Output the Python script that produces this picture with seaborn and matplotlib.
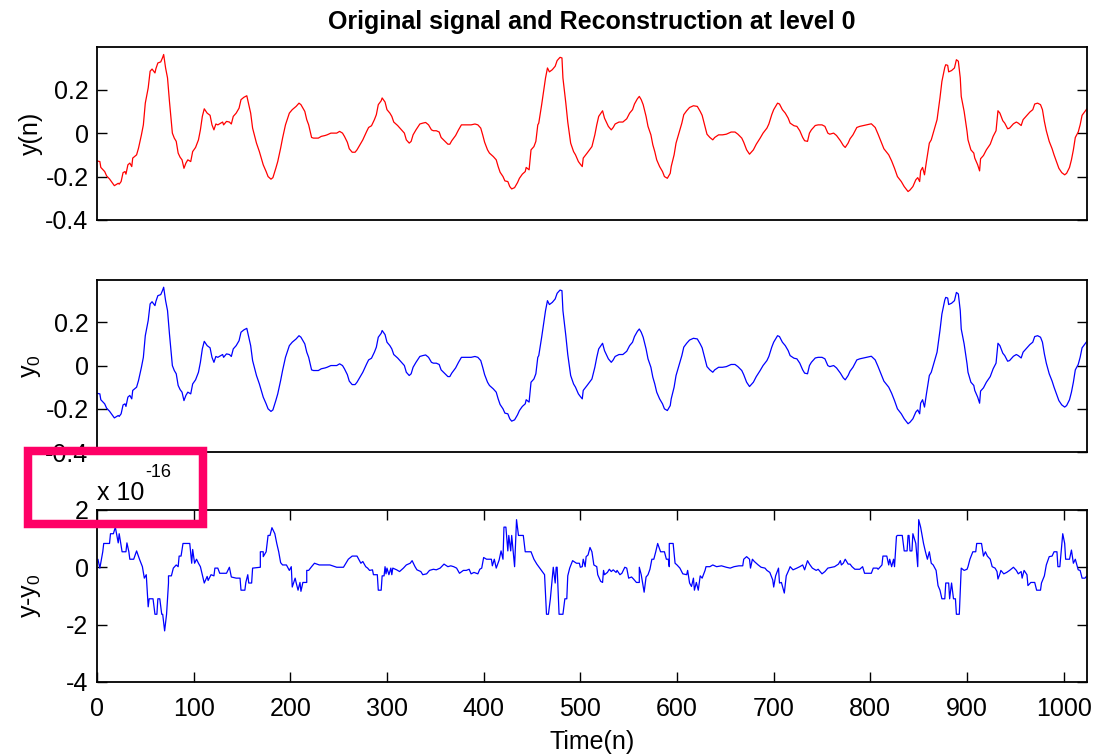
import numpy as np
import matplotlib.pyplot as plt
import matplotlib.patches as patches
from matplotlib.ticker import FuncFormatter
import seaborn as sb

# signal y(n) at its turning points (sample index, value)
n_sig = [0, 3, 4, 8, 10, 13, 18, 22, 23, 25, 27, 29, 30, 32, 34, 36, 37, 41, 43, 46,
         48, 50, 53, 55, 57, 60, 61, 63, 66, 68, 69, 71, 73, 75, 78, 80, 82, 84, 86, 88,
         90, 92, 94, 97, 99, 102, 105, 107, 109, 111, 114, 117, 119, 121, 123, 125, 128, 130, 131, 134,
         137, 139, 141, 144, 147, 149, 152, 155, 157, 159, 161, 165, 168, 170, 172, 175, 177, 180, 182, 185,
         187, 190, 192, 195, 199, 202, 206, 209, 211, 215, 217, 219, 222, 224, 229, 232, 236, 238, 242, 248,
         251, 254, 256, 259, 261, 264, 267, 269, 272, 275, 279, 281, 284, 287, 289, 291, 294, 295, 298, 300,
         303, 305, 307, 311, 315, 318, 320, 323, 325, 327, 330, 334, 337, 340, 343, 346, 348, 351, 354, 356,
         360, 363, 365, 367, 371, 374, 377, 380, 384, 387, 391, 394, 397, 399, 401, 404, 406, 410, 413, 415,
         417, 420, 422, 425, 427, 429, 432, 435, 437, 440, 443, 444, 447, 449, 452, 454, 456, 457, 460, 462,
         464, 466, 468, 471, 474, 476, 479, 481, 482, 485, 487, 490, 493, 495, 498, 500, 502, 503, 507, 512,
         515, 517, 519, 523, 525, 529, 532, 534, 536, 540, 544, 548, 551, 554, 556, 559, 561, 563, 565, 568,
         570, 573, 575, 577, 579, 582, 585, 587, 590, 593, 594, 597, 599, 602, 605, 607, 610, 613, 617, 621,
         624, 626, 629, 631, 634, 637, 639, 643, 647, 651, 656, 660, 663, 667, 669, 672, 675, 679, 682, 686,
         689, 693, 695, 698, 700, 704, 706, 709, 712, 715, 717, 721, 724, 727, 730, 732, 735, 737, 739, 743,
         746, 750, 753, 756, 758, 762, 765, 769, 772, 774, 777, 779, 782, 786, 789, 793, 796, 801, 805, 808,
         811, 814, 819, 822, 825, 828, 832, 835, 839, 841, 844, 847, 849, 851, 852, 854, 856, 858, 861, 863,
         866, 869, 872, 874, 877, 878, 880, 881, 884, 887, 889, 891, 893, 894, 897, 900, 901, 904, 907, 908,
         911, 913, 914, 917, 920, 924, 927, 930, 932, 934, 937, 939, 942, 944, 948, 951, 953, 956, 958, 962,
         965, 968, 970, 973, 976, 978, 980, 982, 985, 988, 990, 993, 995, 998, 1001, 1003, 1006, 1008, 1010, 1012,
         1015, 1017, 1019, 1022, 1024]
y_sig = [-0.128, -0.131, -0.158, -0.177, -0.197, -0.211, -0.242, -0.231, -0.235, -0.223, -0.182, -0.177, -0.189, -0.146, -0.138, -0.154, -0.115, -0.100, -0.069, -0.008,
         0.038, 0.138, 0.208, 0.285, 0.295, 0.277, 0.297, 0.323, 0.328, 0.349, 0.362, 0.300, 0.254, 0.146, 0.000, -0.023, -0.038, -0.092, -0.111, -0.123,
         -0.162, -0.138, -0.123, -0.131, -0.085, -0.066, -0.031, 0.015, 0.077, 0.112, 0.092, 0.082, 0.038, 0.015, 0.042, 0.038, 0.046, 0.051, 0.038, 0.054,
         0.051, 0.042, 0.077, 0.092, 0.115, 0.154, 0.165, 0.172, 0.131, 0.092, 0.023, -0.046, -0.085, -0.115, -0.146, -0.177, -0.200, -0.212, -0.205, -0.162,
         -0.131, -0.069, -0.023, 0.038, 0.092, 0.108, 0.123, 0.138, 0.131, 0.100, 0.062, 0.038, -0.020, -0.023, -0.023, -0.015, -0.011, -0.008, 0.000, 0.000,
         0.008, 0.000, -0.015, -0.042, -0.072, -0.088, -0.088, -0.077, -0.054, -0.031, 0.008, 0.026, 0.034, 0.062, 0.085, 0.131, 0.149, 0.162, 0.143, 0.108,
         0.092, 0.077, 0.051, 0.035, 0.015, 0.000, -0.031, -0.046, -0.038, -0.008, 0.015, 0.042, 0.046, 0.049, 0.038, 0.015, 0.011, 0.011, 0.005, -0.020,
         -0.038, -0.051, -0.051, -0.035, -0.011, 0.015, 0.038, 0.038, 0.038, 0.038, 0.042, 0.038, 0.023, -0.008, -0.042, -0.077, -0.092, -0.108, -0.123, -0.154,
         -0.180, -0.200, -0.220, -0.223, -0.246, -0.257, -0.251, -0.228, -0.208, -0.189, -0.177, -0.158, -0.169, -0.077, -0.062, -0.038, 0.038, 0.046, 0.131, 0.192,
         0.254, 0.300, 0.282, 0.292, 0.308, 0.334, 0.349, 0.346, 0.254, 0.138, 0.051, -0.046, -0.085, -0.100, -0.131, -0.143, -0.154, -0.115, -0.092, -0.062,
         -0.008, 0.038, 0.077, 0.103, 0.069, 0.031, 0.015, 0.026, 0.042, 0.051, 0.051, 0.066, 0.092, 0.108, 0.134, 0.158, 0.169, 0.154, 0.131, 0.077,
         0.031, -0.008, -0.054, -0.085, -0.123, -0.154, -0.177, -0.200, -0.208, -0.185, -0.154, -0.100, -0.046, 0.000, 0.046, 0.085, 0.103, 0.118, 0.126, 0.123,
         0.100, 0.082, 0.031, -0.005, -0.020, -0.031, -0.020, -0.008, -0.008, -0.005, 0.005, 0.005, -0.005, -0.023, -0.042, -0.077, -0.097, -0.077, -0.051, -0.023,
         0.000, 0.023, 0.042, 0.085, 0.108, 0.138, 0.134, 0.108, 0.092, 0.069, 0.046, 0.034, 0.031, 0.011, -0.020, -0.035, -0.038, 0.000, 0.015, 0.035,
         0.038, 0.038, 0.031, 0.000, -0.005, 0.000, -0.011, -0.035, -0.057, -0.066, -0.046, -0.026, -0.008, 0.026, 0.031, 0.035, 0.038, 0.043, 0.026, -0.005,
         -0.038, -0.072, -0.100, -0.128, -0.162, -0.200, -0.223, -0.246, -0.269, -0.262, -0.246, -0.215, -0.205, -0.223, -0.174, -0.158, -0.192, -0.131, -0.046, -0.031,
         0.015, 0.062, 0.162, 0.238, 0.303, 0.315, 0.312, 0.282, 0.288, 0.300, 0.338, 0.331, 0.254, 0.169, 0.100, 0.008, -0.031, -0.077, -0.092, -0.115,
         -0.146, -0.174, -0.118, -0.103, -0.077, -0.051, -0.015, 0.011, 0.103, 0.092, 0.057, 0.046, 0.020, 0.023, 0.043, 0.051, 0.046, 0.035, 0.062, 0.082,
         0.097, 0.108, 0.134, 0.138, 0.131, 0.108, 0.054, 0.011, -0.038, -0.072, -0.100, -0.138, -0.162, -0.182, -0.192, -0.185, -0.158, -0.123, -0.077, -0.020,
         0.005, 0.038, 0.082, 0.100, 0.112]

# reconstruction error y - y0, in units of 1e-16
n_err = [1, 3, 6, 7, 13, 14, 17, 19, 22, 23, 26, 30, 31, 33, 34, 38, 41, 44, 47, 49,
         51, 53, 54, 58, 60, 62, 63, 65, 67, 68, 70, 72, 74, 74, 77, 79, 82, 84, 85, 87,
         89, 96, 98, 99, 101, 103, 105, 107, 109, 111, 114, 115, 118, 121, 122, 125, 127, 134, 137, 139,
         144, 148, 149, 153, 154, 156, 157, 160, 161, 169, 169, 172, 172, 175, 177, 179, 181, 184, 186, 188,
         190, 192, 196, 199, 201, 202, 205, 206, 208, 210, 211, 213, 217, 217, 219, 222, 225, 230, 241, 248,
         255, 260, 264, 269, 273, 275, 278, 280, 282, 285, 286, 290, 291, 294, 295, 297, 298, 299, 300, 302,
         304, 305, 306, 310, 313, 317, 320, 324, 326, 329, 331, 335, 337, 341, 344, 348, 351, 355, 359, 363,
         366, 369, 372, 375, 379, 382, 385, 387, 390, 394, 396, 398, 400, 403, 408, 409, 411, 413, 416, 418,
         420, 421, 423, 425, 426, 428, 429, 432, 434, 436, 441, 443, 449, 452, 455, 458, 463, 465, 467, 469,
         472, 474, 475, 476, 478, 482, 484, 486, 487, 489, 492, 496, 499, 500, 502, 503, 505, 506, 508, 510,
         512, 514, 517, 518, 521, 523, 524, 525, 528, 530, 532, 534, 537, 538, 541, 543, 546, 548, 550, 553,
         555, 558, 561, 561, 563, 566, 568, 570, 572, 574, 576, 578, 580, 583, 587, 589, 591, 592, 592, 596,
         598, 600, 603, 606, 610, 611, 613, 615, 617, 618, 620, 622, 624, 626, 629, 630, 634, 637, 641, 646,
         651, 655, 659, 664, 668, 669, 672, 675, 676, 678, 680, 684, 687, 691, 693, 696, 699, 700, 702, 705,
         706, 708, 711, 713, 716, 717, 720, 724, 727, 730, 732, 735, 737, 740, 744, 746, 750, 753, 756, 763,
         767, 769, 770, 772, 774, 777, 779, 781, 784, 789, 792, 794, 801, 803, 807, 808, 812, 813, 817, 819,
         820, 822, 824, 825, 827, 828, 833, 835, 838, 839, 840, 841, 843, 844, 847, 849, 850, 852, 855, 857,
         859, 861, 863, 865, 868, 870, 872, 874, 877, 878, 881, 882, 884, 886, 888, 889, 892, 894, 897, 900,
         901, 903, 906, 909, 910, 915, 917, 919, 921, 924, 926, 929, 931, 932, 934, 935, 938, 941, 944, 948,
         951, 953, 956, 957, 959, 962, 963, 966, 970, 972, 976, 977, 980, 982, 985, 988, 990, 993, 994, 996,
         999, 1001, 1002, 1006, 1008, 1010, 1012, 1015, 1017, 1019, 1022, 1024]
err_e16 = [0.28, -0.03, 0.54, 0.83, 0.83, 1.17, 1.17, 1.40, 0.85, 1.17, 0.54, 0.54, 0.85, 0.54, 0.28, 0.28, 0.57, 0.28, 0.02, -0.38,
           -0.26, -1.38, -1.10, -1.10, -1.64, -1.64, -1.10, -1.10, -1.64, -1.64, -2.22, -1.64, -0.55, -0.30, -0.30, -0.03, 0.08, 0.02, 0.39, 0.39,
           0.83, 0.83, 0.14, 0.62, 0.14, 0.28, 0.14, 0.02, -0.26, -0.55, -0.32, -0.46, -0.26, -0.30, -0.03, -0.03, -0.21, -0.21, 0.00, -0.34,
           -0.38, -0.38, -0.80, -0.80, -0.53, -0.26, -0.55, -0.55, -0.03, 0.00, 0.54, 0.54, 0.37, 0.54, 1.11, 1.11, 1.38, 1.17, 0.83, 0.54,
           0.16, 0.08, 0.08, -0.11, 0.02, -0.69, -0.38, -0.53, -0.80, -0.53, -0.84, -0.53, -0.53, -0.11, -0.11, 0.02, 0.14, 0.08, 0.08, 0.00,
           0.00, 0.28, 0.39, 0.39, 0.14, 0.20, 0.02, -0.03, -0.11, -0.09, -0.26, -0.26, -0.80, -0.80, -0.30, -0.30, 0.02, -0.23, -0.03, -0.26,
           -0.03, -0.26, -0.03, -0.09, -0.15, -0.03, 0.08, 0.14, 0.23, 0.02, -0.09, -0.15, -0.26, -0.23, -0.11, -0.07, -0.09, -0.03, 0.11, 0.02,
           0.05, 0.02, -0.03, -0.21, -0.11, -0.11, -0.07, -0.23, -0.18, -0.23, -0.07, -0.03, 0.34, 0.28, 0.28, 0.05, 0.28, -0.03, 0.25, 0.57,
           0.28, 1.40, 1.40, 0.57, 1.11, 0.57, 1.11, 0.02, 1.66, 1.11, 1.11, 0.54, 0.54, 0.28, 0.11, -0.03, -0.26, -1.64, -1.64, -1.10,
           0.00, -0.55, 0.00, 0.00, -1.64, -1.64, -1.10, -1.10, -0.30, -0.03, 0.23, 0.14, 0.14, 0.00, 0.02, 0.28, 0.02, 0.37, 0.43, 0.69,
           0.54, 0.08, 0.02, -0.26, -0.49, -0.53, -0.11, -0.26, -0.18, -0.07, -0.15, -0.09, -0.18, -0.11, -0.26, -0.21, 0.00, -0.03, -0.38, -0.34,
           -0.41, -0.53, -0.53, 0.00, -0.26, -0.87, -0.34, -0.26, -0.07, 0.28, 0.28, 0.54, 0.83, 0.54, 0.54, 0.28, 0.28, 0.02, 0.83, 0.83,
           0.14, 0.08, -0.03, -0.23, -0.26, -0.11, -0.55, -0.67, -0.38, -0.80, -0.53, -0.80, -0.30, -0.38, -0.11, 0.02, 0.02, 0.08, 0.02, 0.05,
           0.00, -0.03, 0.02, 0.05, 0.05, 0.28, 0.37, 0.28, -0.03, 0.28, 0.20, 0.08, 0.00, -0.03, -0.11, -0.18, -0.44, -0.69, -0.30, -0.03,
           -0.55, -0.53, -0.90, -0.30, -0.07, 0.02, -0.09, -0.03, 0.02, 0.08, -0.09, 0.23, 0.11, -0.03, -0.11, -0.07, -0.23, -0.15, -0.03, 0.02,
           0.11, 0.23, 0.08, 0.14, 0.28, 0.11, 0.11, 0.02, -0.07, -0.07, 0.02, -0.21, -0.21, -0.03, -0.03, -0.07, 0.08, 0.39, 0.39, 0.08,
           0.28, 0.02, 0.28, 0.02, 1.08, 1.11, 1.11, 0.57, 0.57, 1.11, 1.11, 0.57, 0.57, 1.17, 0.83, 0.02, 1.66, 1.40, 0.83, 0.54,
           0.28, 0.54, 0.14, 0.08, -0.11, -0.64, -0.80, -1.10, -1.10, -0.55, -0.55, -1.10, -0.55, -1.10, -1.10, -1.64, -1.64, -0.03, -0.11, -0.07,
           0.02, 0.28, 0.54, 0.54, 0.83, 0.83, 0.39, 0.54, 0.39, 0.28, 0.02, -0.03, -0.15, -0.41, -0.23, -0.11, -0.23, -0.18, -0.11, 0.00,
           -0.11, -0.23, -0.15, -0.38, -0.11, -0.26, -0.64, -0.53, -0.53, -0.80, -0.80, -0.55, -0.30, 0.08, 0.37, 0.39, 0.54, 0.54, 0.02, 0.02,
           1.17, 0.83, 0.28, 0.28, 0.60, 0.14, 0.28, -0.09, -0.11, -0.38, -0.38, -0.30]

sig_ticks = [-0.4, -0.2, 0, 0.2]
err_ticks = [-4e-16, -2e-16, 0, 2e-16]
time_ticks = list(range(0, 1001, 100))

sb.set_style('white')
plt.rcParams['font.family'] = ['Liberation Sans', 'DejaVu Sans']
plt.rcParams['axes.unicode_minus'] = False
plt.rcParams['mathtext.fontset'] = 'custom'
plt.rcParams['mathtext.rm'] = 'Liberation Sans'
plt.rcParams['text.color'] = 'black'
plt.rcParams['axes.labelcolor'] = 'black'
plt.rcParams['xtick.color'] = 'black'
plt.rcParams['ytick.color'] = 'black'

fig = plt.figure(figsize=(10.98, 7.56), dpi=100)
ax1 = fig.add_axes([0.0883, 0.709, 0.9016, 0.2284])
ax2 = fig.add_axes([0.0883, 0.402, 0.9016, 0.2275])
ax3 = fig.add_axes([0.0883, 0.098, 0.9016, 0.2275])

err = np.array(err_e16) * 1e-16

sb.lineplot(x=n_sig, y=y_sig, ax=ax1, color='#ff0000', linewidth=0.9, estimator=None, sort=False)
sb.lineplot(x=n_sig, y=y_sig, ax=ax2, color='#0000ff', linewidth=0.9, estimator=None, sort=False)
sb.lineplot(x=n_err, y=err, ax=ax3, color='#0000ff', linewidth=0.9, estimator=None, sort=False)

for ax in [ax1, ax2, ax3]:
    ax.set_xlim(0, 1024)
    ax.tick_params(direction='in', length=7, width=1, labelsize=18, left=True, right=True,
                   top=True, bottom=True, colors='black', pad=6)
    for s in ax.spines.values():
        s.set_visible(True)
        s.set_color('black')
        s.set_linewidth(1.3)

for ax in [ax1, ax2]:
    ax.set_ylim(-0.4, 0.395)
    ax.set_yticks(sig_ticks)
    ax.yaxis.set_major_formatter(FuncFormatter(lambda v, p: '%g' % round(v, 3)))
    ax.set_xticks([])

ax3.set_ylim(-4e-16, 2e-16)
ax3.set_yticks(err_ticks)
ax3.yaxis.set_major_formatter(FuncFormatter(lambda v, p: '%g' % round(v * 1e16, 3)))
ax3.set_xticks(time_ticks)
ax3.tick_params(axis='x', pad=11)

ax1.set_title('Original signal and Reconstruction at level 0', fontsize=18, fontweight='bold',
              pad=13, color='black')
ax1.set_ylabel('y(n)', fontsize=18)
ax2.set_ylabel(r'y$_0$', fontsize=18)
ax3.set_ylabel(r'y-y$_0$', fontsize=18)
for ax in [ax1, ax2, ax3]:
    ax.yaxis.set_label_coords(-0.055, 0.5)
ax3.set_xlabel('Time(n)', fontsize=18, labelpad=6)

# MATLAB style exponent above the error axes
ax3.text(0.0, 1.058, 'x 10', transform=ax3.transAxes, fontsize=18, va='baseline', ha='left', color='black')
ax3.text(0.0488, 1.19, '-16', transform=ax3.transAxes, fontsize=13, va='baseline', ha='left', color='black')

# highlight box around the exponent
box = patches.Rectangle((0.02505, 0.3069), 0.1598, 0.0966, transform=fig.transFigure,
                        fill=False, edgecolor='#ff0066', linewidth=6.1, zorder=10)
box.set_joinstyle('miter')
fig.add_artist(box)

fig.savefig('out.png', dpi=100)
